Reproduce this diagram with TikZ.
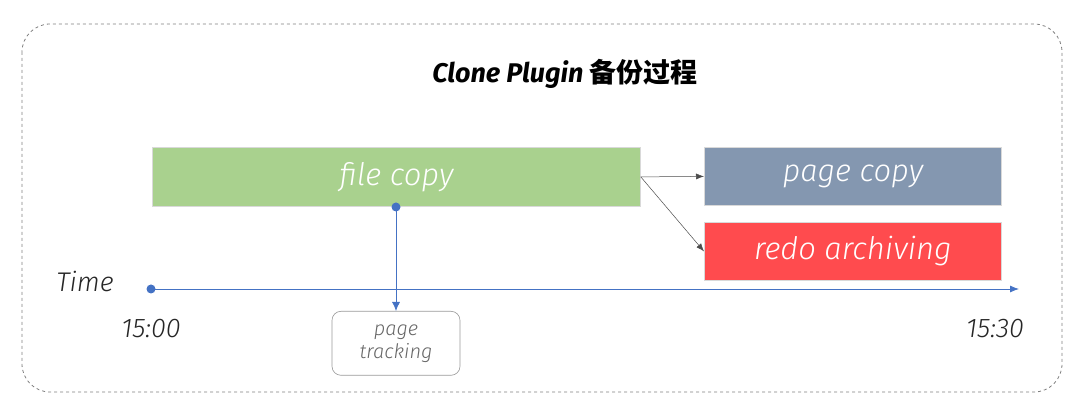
\documentclass[tikz,border=0pt]{standalone}
\usepackage{fontspec}
\setmainfont{Fira Sans}
\newfontfamily\cjk{Noto Sans CJK SC}
\newfontfamily\thinfont{Fira Sans Light}
\usetikzlibrary{arrows.meta}
\definecolor{filegreen}{HTML}{A9D18E}
\definecolor{pageblue}{HTML}{8497B0}
\definecolor{redored}{HTML}{FF4B4E}
\definecolor{axisblue}{HTML}{4472C4}
\tikzset{
  stagebox/.style={draw=white!85!black, line width=0.8pt, inner sep=0pt, anchor=north west,
    text=white, font=\thinfont\itshape\fontsize{31}{33}\selectfont},
  timelabel/.style={font=\thinfont\itshape\fontsize{27}{29}\selectfont, text=black!85}
}
\begin{document}
\begin{tikzpicture}[x=1pt, y=-1pt]
    \useasboundingbox (0,0) rectangle (1080,411);
    \draw[gray, dashed, rounded corners=28pt, line width=0.8pt] (22,24) rectangle (1062,392);

    \node[font=\bfseries\itshape\fontsize{27}{29}\selectfont] (title) at (565,74) {Clone Plugin {\cjk\bfseries 备份过程}};

    \node[stagebox, fill=filegreen, minimum width=488pt, minimum height=59pt] (file) at (152,147) {file copy};
    \node[stagebox, fill=pageblue, minimum width=297pt, minimum height=58pt] (page) at (704,147) {page copy};
    \node[stagebox, fill=redored, minimum width=297pt, minimum height=58pt] (redo) at (704,222) {redo archiving};

    \draw[-{Latex[length=8pt,width=6pt]}, black!70, line width=0.5pt] (file.east) -- (page.west);
    \draw[-{Latex[length=8pt,width=6pt]}, black!70, line width=0.5pt] (file.east) -- (redo.west);

    \coordinate (start) at (151,289);
    \coordinate (end) at (1019,289);
    \fill[axisblue] (start) circle (4.5pt);
    \draw[-{Latex[length=9pt,width=7pt]}, axisblue, line width=0.8pt] (start) -- (end);

    \node[timelabel] (time) at (85,281) {Time};
    \node[timelabel] (t0) at (151,329) {15:00};
    \node[timelabel] (t1) at (995,329) {15:30};

    \node[draw=black!40, rounded corners=9pt, line width=0.6pt, minimum width=128pt, minimum height=64pt,
      anchor=north, align=center, text=black!60, font=\thinfont\itshape\fontsize{20}{23}\selectfont] (track) at (396,311) {page\\tracking};

    \coordinate (tap) at (396,207);
    \fill[axisblue] (tap) circle (4.5pt);
    \draw[-{Latex[length=9pt,width=8pt]}, axisblue, line width=0.8pt] (tap) -- (track.north);
\end{tikzpicture}
\end{document}
